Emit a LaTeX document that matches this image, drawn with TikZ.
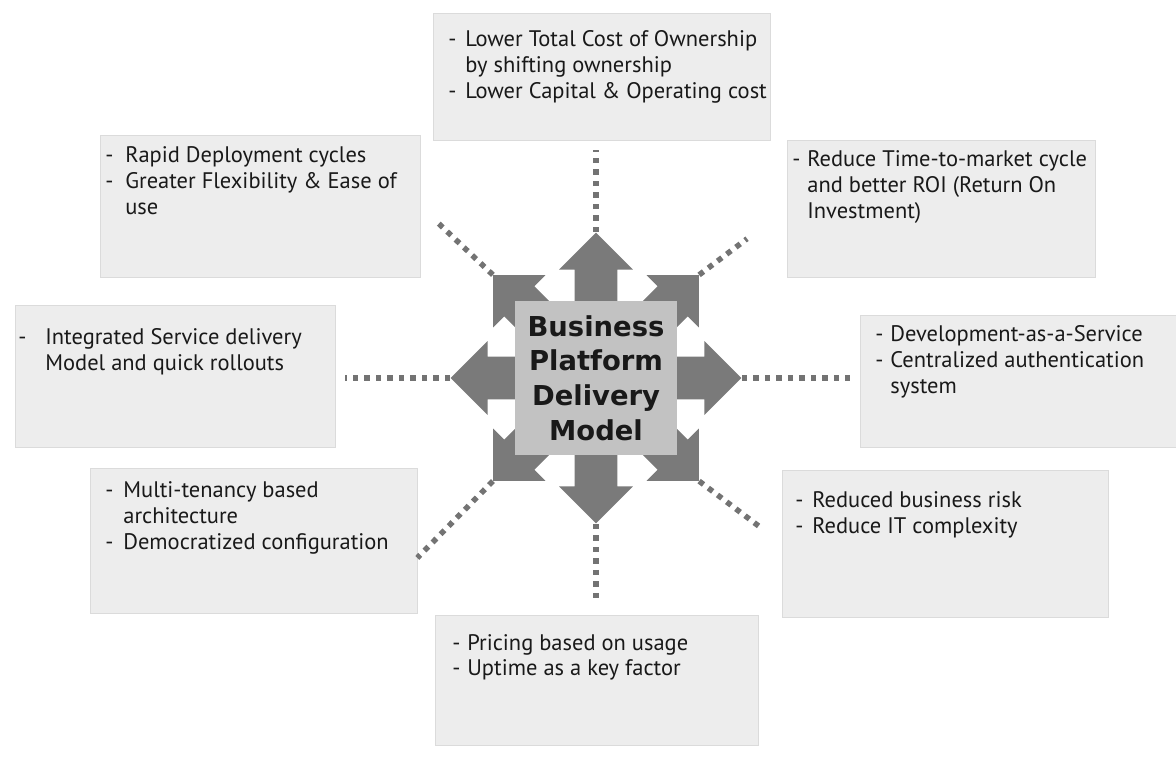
\documentclass[tikz,border=0pt]{standalone}
\usepackage{fontspec}
\setmainfont{PT Sans}
\newfontfamily\corefont{DejaVu Sans}
\usetikzlibrary{shapes.arrows, calc}

% two-column list: dash, then the text
\newcommand{\dashlist}[2]{\begin{tabular}[t]{@{}p{#1}@{}l@{}}#2\end{tabular}}

\begin{document}
\begin{tikzpicture}[x=0.02cm, y=-0.02cm,
		panel/.style={rectangle, anchor=north west, inner sep=0pt, fill=black!7, draw=black!14, very thin},
		blurb/.style={anchor=base west, inner sep=0pt, text=black!90, font=\fontsize{12.8}{14.7}\selectfont},
		spoke/.style={single arrow, fill=black!52, minimum height=2.9cm, minimum width=1.46cm, single arrow head extend=0.31cm, inner ysep=0.42cm, inner xsep=0pt, anchor=tail},
		core/.style={rectangle, fill=black!24, minimum width=3.24cm, minimum height=3.1cm, align=center, text=black!90, font=\corefont\bfseries\fontsize{15.6}{19.8}\selectfont},
		link/.style={draw=black!55, line width=0.11cm, dash pattern=on 0.11cm off 0.12cm}]
	\useasboundingbox (0,0) rectangle (1176,759);

	% outer boxes
	\node[panel, minimum width=6.74cm, minimum height=2.54cm] (top) at (433,13) {};
	\node[panel, minimum width=6.4cm, minimum height=2.84cm] (tl) at (100,135) {};
	\node[panel, minimum width=6.16cm, minimum height=2.74cm] (tr) at (787,140) {};
	\node[panel, minimum width=6.4cm, minimum height=2.84cm] (lft) at (15,305) {};
	\node[panel, minimum width=6.4cm, minimum height=2.64cm] (rgt) at (860,315) {};
	\node[panel, minimum width=6.54cm, minimum height=2.9cm] (bl) at (90,468) {};
	\node[panel, minimum width=6.52cm, minimum height=2.94cm] (br) at (782,470) {};
	\node[panel, minimum width=6.46cm, minimum height=2.6cm] (bot) at (435,615) {};

	% texts
	\node[blurb] (topT) at ([shift={(15,34)}]top.north west) {\dashlist{0.34cm}{- & Lower Total Cost of Ownership\\ & by shifting ownership\\ - & Lower Capital \& Operating cost}};
	\node[blurb] (tlT) at ([shift={(5,28)}]tl.north west) {\dashlist{0.4cm}{- & Rapid Deployment cycles\\ - & Greater Flexibility \& Ease of\\ & use}};
	\node[blurb] (trT) at ([shift={(5,27)}]tr.north west) {\dashlist{0.3cm}{- & Reduce Time-to-market cycle\\ & and better ROI (Return On\\ & Investment)}};
	\node[blurb] (lftT) at ([shift={(3,40)}]lft.north west) {\dashlist{0.54cm}{- & Integrated Service delivery\\ & Model and quick rollouts}};
	\node[blurb] (rgtT) at ([shift={(15,27)}]rgt.north west) {\dashlist{0.3cm}{- & Development-as-a-Service\\ - & Centralized authentication\\ & system}};
	\node[blurb] (blT) at ([shift={(15,30)}]bl.north west) {\dashlist{0.36cm}{- & Multi-tenancy based\\ & architecture\\ - & Democratized configuration}};
	\node[blurb] (brT) at ([shift={(13,38)}]br.north west) {\dashlist{0.34cm}{- & Reduced business risk\\ - & Reduce IT complexity}};
	\node[blurb] (botT) at ([shift={(17,35)}]bot.north west) {\dashlist{0.3cm}{- & Pricing based on usage\\ - & Uptime as a key factor}};

	% star of arrows behind the centre box
	\coordinate (hub) at (596,378);
	\foreach \a/\n in {90/N, 45/NE, 0/E, -45/SE, -90/S, -135/SW, 180/W, 135/NW}
		\node[spoke, rotate=\a] (arr\n) at (hub) {};

	\node[core] (core) at (hub) {Business\\Platform\\Delivery\\Model};

	% dotted links
	\draw[link, shorten >=0.2cm] (arrN.tip) -- (arrN.tip |- top.south);
	\draw[link, shorten >=0.3cm] (arrS.tip) -- (arrS.tip |- bot.north);
	\draw[link, shorten >=0.2cm] (arrW.tip) -- (arrW.tip -| lft.east);
	\draw[link, shorten >=0.2cm] (arrE.tip) -- (arrE.tip -| rgt.west);
	\draw[link, shorten >=0.42cm] (arrNW.tip) -- (tl.east);
	\draw[link, shorten >=1cm] (arrNE.tip) -- (tr.west);
	\draw[link] (arrSW.tip) -- (bl.-6);
	\draw[link, shorten >=0.5cm] (arrSE.tip) -- (br.west);

\end{tikzpicture}
\end{document}
